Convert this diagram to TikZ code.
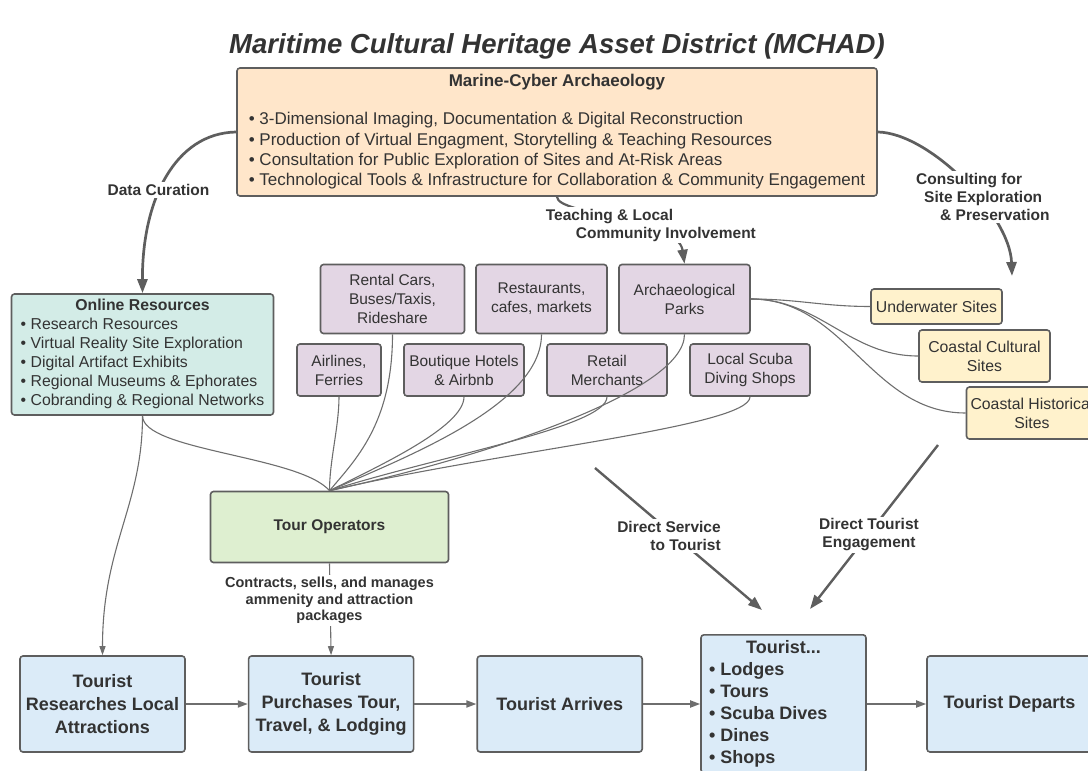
\documentclass[tikz,border=0pt]{standalone}
\usepackage{fontspec}
\setmainfont{Liberation Sans}
\usetikzlibrary{arrows.meta,positioning}

\definecolor{edgegray}{HTML}{5E5E5E}
\definecolor{linegray}{HTML}{6E6E6E}
\definecolor{inkgray}{HTML}{333333}
\definecolor{peach}{HTML}{FFE6CA}
\definecolor{mint}{HTML}{D3ECE7}
\definecolor{lilac}{HTML}{E3D6E4}
\definecolor{butter}{HTML}{FFF2CC}
\definecolor{sage}{HTML}{DEEFD0}
\definecolor{sky}{HTML}{DBEBF8}

\newcommand{\fs}[2]{\fontsize{#1}{#2}\selectfont}

\begin{document}
\begin{tikzpicture}[
    x = 1pt, y = -1pt,
    box/.style = {draw=edgegray, line width=1.6pt, rounded corners=3pt,
                  text=inkgray, align=center, inner sep=0pt},
    mcbox/.style = {box, fill=peach, font=\fs{17}{20.3}, inner xsep=9pt,
                    minimum width=640, minimum height=128},
    webbox/.style = {box, fill=mint, font=\fs{15.8}{19}, inner xsep=6pt,
                     minimum width=262, minimum height=121},
    amen/.style = {box, fill=lilac, font=\fs{15.5}{19}, minimum height=52},
    site/.style = {box, fill=butter, font=\fs{15.8}{19}, minimum width=131},
    opbox/.style = {box, fill=sage, font=\bfseries\fs{15.5}{19},
                    minimum width=238, minimum height=71},
    tourbox/.style = {box, fill=sky, font=\bfseries\fs{18}{23},
                      minimum width=165, minimum height=96},
    lbl/.style = {fill=white, text=inkgray, font=\bfseries\fs{15.5}{18},
                  align=center, inner sep=2pt},
    bigarrow/.style = {draw=edgegray, line width=2.7pt, -{Triangle[length=14pt,width=10pt]}},
    flow/.style = {draw=linegray, line width=1.8pt, -{Triangle[length=10pt,width=7pt]}},
    slim/.style = {draw=linegray, line width=1.1pt, -{Triangle[length=9pt,width=6pt]}},
    fan/.style = {draw=linegray, line width=1.1pt},
  ]
  \useasboundingbox (0,0) rectangle (1088,771);
  \clip (0,0) rectangle (1088,771);

  \node[font=\bfseries\itshape\fs{27.5}{33}, text=inkgray] (title) at (557,46)
    {Maritime Cultural Heritage Asset District (MCHAD)};

  \node[mcbox] (mca) at (557,132) {\begin{tabular}{@{}l@{}}
      \multicolumn{1}{c}{\textbf{Marine-Cyber Archaeology}}\\[18.3pt]
      • 3-Dimensional Imaging, Documentation \& Digital Reconstruction\\
      • Production of Virtual Engagment, Storytelling \& Teaching Resources\\
      • Consultation for Public Exploration of Sites and At-Risk Areas\\
      • Technological Tools \& Infrastructure for Collaboration \& Community Engagement
    \end{tabular}};

  \node[webbox] (onl) at (142.5,354.5) {\begin{tabular}{@{}l@{}}
      \multicolumn{1}{c}{\textbf{Online Resources}}\\
      • Research Resources\\
      • Virtual Reality Site Exploration\\
      • Digital Artifact Exhibits\\
      • Regional Museums \& Ephorates\\
      • Cobranding \& Regional Networks
    \end{tabular}};

  \node[amen, minimum width=144, minimum height=69] (rent) at (392.5,299) {Rental Cars,\\Buses/Taxis,\\Rideshare};
  \node[amen, minimum width=131, minimum height=69] (rest) at (541.5,299) {Restaurants,\\cafes, markets};
  \node[amen, minimum width=131, minimum height=69] (arch) at (684.5,299) {Archaeological\\Parks};
  \node[amen, minimum width=84] (air) at (339,370) {Airlines,\\Ferries};
  \node[amen, minimum width=120] (hotel) at (464,370) {Boutique Hotels\\\& Airbnb};
  \node[amen, minimum width=120] (retail) at (607,370) {Retail\\Merchants};
  \node[amen, minimum width=120] (scuba) at (750,370) {Local Scuba\\Diving Shops};

  \node[site, minimum height=35] (uw) at (936.5,306.5) {Underwater Sites};
  \node[site, minimum height=52] (ccs) at (984.5,356) {Coastal Cultural\\Sites};
  \node[site, minimum height=52] (chs) at (1032,413) {Coastal Historical\\Sites};

  \node[opbox] (tour) at (329.5,527) {Tour Operators};

  \node[tourbox] (res) at (102.5,704) {Tourist\\Researches Local\\Attractions};
  \node[tourbox, right=62pt of res] (pur) {Tourist\\Purchases Tour,\\Travel, \& Lodging};
  \node[tourbox, right=62pt of pur] (arr) {Tourist Arrives};
  \node[tourbox, font=\bfseries\fs{18}{22}, anchor=north, inner xsep=8pt, inner ysep=3pt,
        minimum height=0pt] (stay) at (783.5,634)
    {\begin{tabular}{@{}p{149pt}@{}}
      \multicolumn{1}{c}{Tourist...}\\
      • Lodges\\
      • Tours\\
      • Scuba Dives\\
      • Dines\\
      • Shops
    \end{tabular}};
  \node[tourbox] (dep) at (1009.5,704) {Tourist Departs};

  \coordinate (consEnd) at (1012,276);
  \coordinate (svcA) at (595,468);
  \coordinate (svcB) at (762,610);
  \coordinate (engA) at (938,445);
  \coordinate (engB) at (810,609);

  \draw[bigarrow] (mca.west) .. controls (175,133) and (142,200) .. (onl.north);
  \draw[bigarrow] (mca.east) .. controls (930,133) and (1010,215) .. (consEnd);
  \draw[bigarrow, line width=2.2pt] (mca.south) .. controls (557,215) and (678,218) .. (arch.north);
  \draw[bigarrow, line width=2.4pt] (svcA) -- (svcB);
  \draw[bigarrow, line width=2.4pt] (engA) -- (engB);

  \foreach \src/\d/\ex/\ey in {onl/35/-30/-35, air/30/0/-30, rent/90/25/-30, hotel/30/50/-25,
                               rest/70/80/-35, retail/30/110/-35, arch/60/140/-30, scuba/30/170/-40}
    \draw[fan] (\src.south) .. controls +(0,\d) and +(\ex,\ey) .. (tour.north);
  \foreach \t in {uw,ccs,chs}
    \draw[fan] (arch.east) to[out=0,in=180] (\t.west);

  \draw[slim] (onl.south) .. controls +(0,90) and +(0,-110) .. (res.north);
  \draw[slim] (tour.south) -- (pur.north);
  \foreach \a/\b in {res/pur,pur/arr,arr/stay,stay/dep}
    \draw[flow] (\a.east |- res.east) -- (\b.west |- res.east);

  \node[lbl] (curation) at (158.5,190) {Data Curation};
  \node[lbl, align=left, anchor=west] (consult) at (914,197)
    {Consulting for\\\hspace*{8pt}Site Exploration\\\hspace*{24pt}\& Preservation};
  \node[lbl, align=left, anchor=west] (teach) at (543.7,225)
    {Teaching \& Local\\\hspace*{30pt}Community Involvement};
  \node[lbl, align=right] (svc) at (669,536) {Direct Service\\to Tourist};
  \node[lbl] (eng) at (869,535) {Direct Tourist\\Engagement};
  \node[lbl, font=\bfseries\fs{14.5}{16.5}] (deal) at (329.5,600.5)
    {Contracts, sells, and manages\\ammenity and attraction\\packages};
\end{tikzpicture}
\end{document}
